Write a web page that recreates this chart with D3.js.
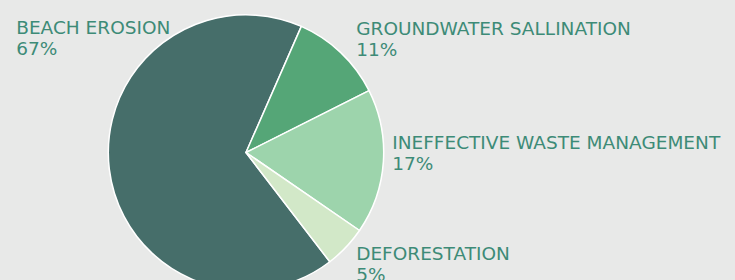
<!DOCTYPE html>
<html>
<head>
<meta charset="utf-8">
<script src="https://cdn.jsdelivr.net/npm/d3@7"></script>
<style>
  html, body { margin: 0; padding: 0; background: #e8e9e8; }
  svg { display: block; }
  .lbl { font-family: "DejaVu Sans", sans-serif; font-size: 18.5px; font-weight: 400; fill: #3d8b77; }
</style>
</head>
<body>
<svg id="chart" width="735" height="280"></svg>
<script>
const categories = ["BEACH EROSION", "GROUNDWATER SALLINATION", "INEFFECTIVE WASTE MANAGEMENT", "DEFORESTATION"];
const values = [67, 11, 17, 5];
const colors = ["#466e6a", "#55a677", "#9dd4ac", "#d2e8c8"];
const labelPos = [[16.2, 34], [356.2, 35], [392.2, 149], [356.2, 260]];

const W = 735, H = 280;
const cx = 246, cy = 152.5, r = 137.7;
const svg = d3.select("#chart");
svg.append("rect").attr("width", W).attr("height", H).attr("fill", "#e8e9e8");

const start = 142.5 * Math.PI / 180;
const pie = d3.pie().sort(null).value(d => d).startAngle(start).endAngle(start + 2 * Math.PI);
const arc = d3.arc().innerRadius(0).outerRadius(r);
const g = svg.append("g").attr("transform", `translate(${cx},${cy})`);
g.selectAll("path").data(pie(values)).join("path")
  .attr("d", arc)
  .attr("fill", (d, i) => colors[i])
  .attr("stroke", "#ffffff")
  .attr("stroke-width", 1.5)
  .attr("stroke-linejoin", "round");

const lg = svg.append("g");
categories.forEach((c, i) => {
  const t = lg.append("text").attr("class", "lbl")
    .attr("x", labelPos[i][0]).attr("y", labelPos[i][1]);
  t.append("tspan").attr("x", labelPos[i][0]).text(c);
  t.append("tspan").attr("x", labelPos[i][0]).attr("dy", 20.5).text(values[i] + "%");
});
</script>
</body>
</html>
